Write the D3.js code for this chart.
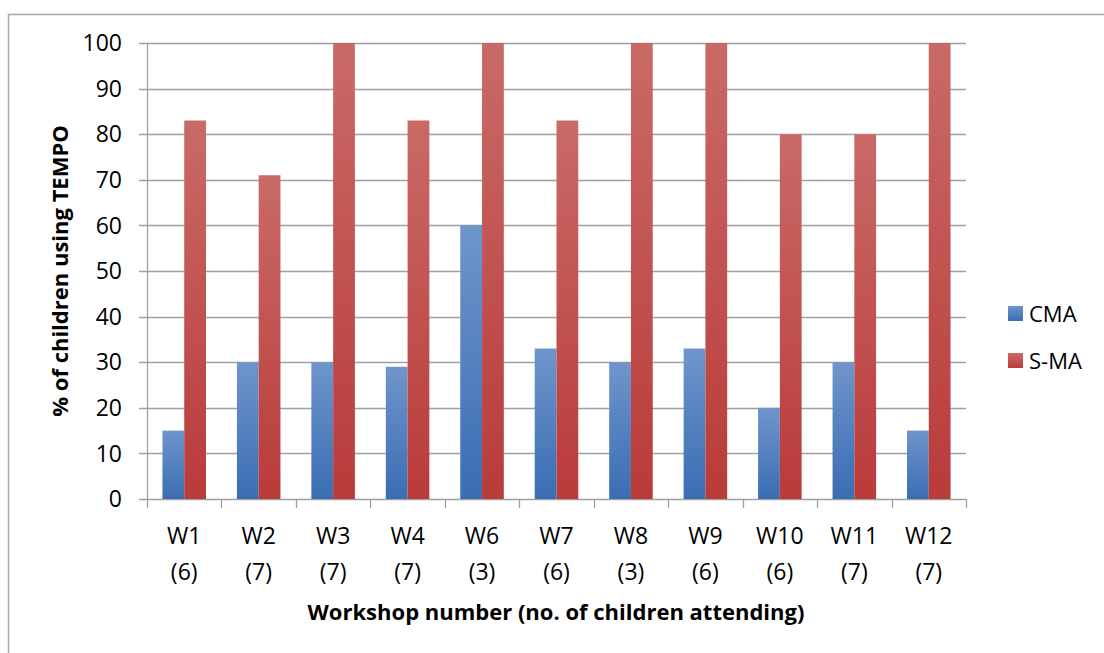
<!DOCTYPE html>
<html>
<head>
<meta charset="utf-8">
<script src="https://cdn.jsdelivr.net/npm/d3@7"></script>
<style>
  body { margin: 0; background: #fff; }
  text { font-family: "Open Sans", sans-serif; fill: #000; }
</style>
</head>
<body>
<div id="chart"></div>
<script>
// Chart data
var workshops = ["W1", "W2", "W3", "W4", "W6", "W7", "W8", "W9", "W10", "W11", "W12"];
var attending = ["(6)", "(7)", "(7)", "(7)", "(3)", "(6)", "(3)", "(6)", "(6)", "(7)", "(7)"];
var cma = [15, 30, 30, 29, 60, 33, 30, 33, 20, 30, 15];
var sma = [83, 71, 100, 83, 100, 83, 100, 100, 80, 80, 100];
var seriesNames = ["CMA", "S-MA"];
var yTicks = [0, 10, 20, 30, 40, 50, 60, 70, 80, 90, 100];

var W = 1104, H = 653;
var plot = { left: 147, top: 43, right: 966, bottom: 499 };

var svg = d3.select("#chart").append("svg")
    .attr("width", W)
    .attr("height", H);

// gradients like the old office look
var defs = svg.append("defs");
function grad(id, top, bottom) {
    var g = defs.append("linearGradient").attr("id", id)
        .attr("x1", 0).attr("y1", 0).attr("x2", 0).attr("y2", 1);
    g.append("stop").attr("offset", "0%").attr("stop-color", top);
    g.append("stop").attr("offset", "100%").attr("stop-color", bottom);
}
grad("gBlue", "#6f95cb", "#3a6db3");
grad("gRed", "#c96a67", "#b93b3a");
var fills = ["url(#gBlue)", "url(#gRed)"];

// outer frame (runs off the right and bottom edge)
svg.append("rect")
    .attr("x", 8.5).attr("y", 14.5)
    .attr("width", W + 10).attr("height", H + 10)
    .attr("fill", "none").attr("stroke", "#a6a6a6").attr("stroke-width", 1.5);

var x = d3.scaleBand()
    .domain(workshops)
    .range([plot.left, plot.right])
    .paddingInner(0).paddingOuter(0);

var xSub = d3.scaleBand()
    .domain(seriesNames)
    .range([0, x.bandwidth()])
    .paddingInner(0)
    .paddingOuter(0.71);

var y = d3.scaleLinear()
    .domain([0, 100])
    .range([plot.bottom, plot.top]);

// gridlines
svg.append("g")
    .selectAll("line")
    .data(yTicks)
    .enter().append("line")
    .attr("x1", plot.left - 8).attr("x2", plot.right)
    .attr("y1", function (d) { return Math.round(y(d)) + 0.5; })
    .attr("y2", function (d) { return Math.round(y(d)) + 0.5; })
    .attr("stroke", "#a0a0a0").attr("stroke-width", 1.3);

// y axis line
svg.append("line")
    .attr("x1", plot.left + 0.5).attr("x2", plot.left + 0.5)
    .attr("y1", plot.top).attr("y2", plot.bottom)
    .attr("stroke", "#a0a0a0").attr("stroke-width", 1.3);

// y tick labels
svg.append("g")
    .selectAll("text")
    .data(yTicks)
    .enter().append("text")
    .attr("x", 122)
    .attr("y", function (d) { return y(d); })
    .attr("dy", "0.36em")
    .attr("text-anchor", "end")
    .style("font-size", "23px")
    .text(function (d) { return d; });

// x axis ticks
var tickPos = workshops.map(function (w) { return x(w); }).concat([plot.right]);
svg.append("g")
    .selectAll("line")
    .data(tickPos)
    .enter().append("line")
    .attr("x1", function (d) { return Math.round(d) + 0.5; })
    .attr("x2", function (d) { return Math.round(d) + 0.5; })
    .attr("y1", plot.bottom).attr("y2", plot.bottom + 9)
    .attr("stroke", "#a0a0a0").attr("stroke-width", 1.3);

// bars
var rows = workshops.map(function (w, i) {
    return { w: w, values: [cma[i], sma[i]] };
});
var groups = svg.append("g")
    .selectAll("g")
    .data(rows)
    .enter().append("g")
    .attr("transform", function (d) { return "translate(" + x(d.w) + ",0)"; });

groups.selectAll("rect")
    .data(function (d) { return d.values.map(function (v, k) { return { k: k, v: v }; }); })
    .enter().append("rect")
    .attr("x", function (d) { return xSub(seriesNames[d.k]); })
    .attr("width", xSub.bandwidth())
    .attr("y", function (d) { return y(d.v); })
    .attr("height", function (d) { return y(0) - y(d.v); })
    .attr("fill", function (d) { return fills[d.k]; });

// category labels (two lines)
var catLabels = svg.append("g")
    .selectAll("text")
    .data(workshops)
    .enter().append("text")
    .attr("text-anchor", "middle")
    .style("font-size", "23px");
catLabels.append("tspan")
    .attr("x", function (d) { return x(d) + x.bandwidth() / 2; })
    .attr("y", 544)
    .text(function (d) { return d; });
catLabels.append("tspan")
    .attr("x", function (d) { return x(d) + x.bandwidth() / 2; })
    .attr("y", 580)
    .text(function (d, i) { return attending[i]; });

// axis titles
svg.append("text")
    .attr("x", 556).attr("y", 620)
    .attr("text-anchor", "middle")
    .style("font-size", "22px").style("font-weight", "bold")
    .text("Workshop number (no. of children attending)");

svg.append("text")
    .attr("transform", "translate(68,271) rotate(-90)")
    .attr("text-anchor", "middle")
    .style("font-size", "22px").style("font-weight", "bold")
    .text("% of children using TEMPO");

// legend
var legend = svg.append("g")
    .selectAll("g")
    .data(seriesNames)
    .enter().append("g")
    .attr("transform", function (d, i) { return "translate(1008," + (306 + i * 47) + ")"; });
legend.append("rect")
    .attr("width", 15).attr("height", 15)
    .attr("fill", function (d, i) { return fills[i]; });
legend.append("text")
    .attr("x", 21).attr("y", 8)
    .attr("dy", "0.36em")
    .style("font-size", "22px")
    .text(function (d) { return d; });
</script>
</body>
</html>
